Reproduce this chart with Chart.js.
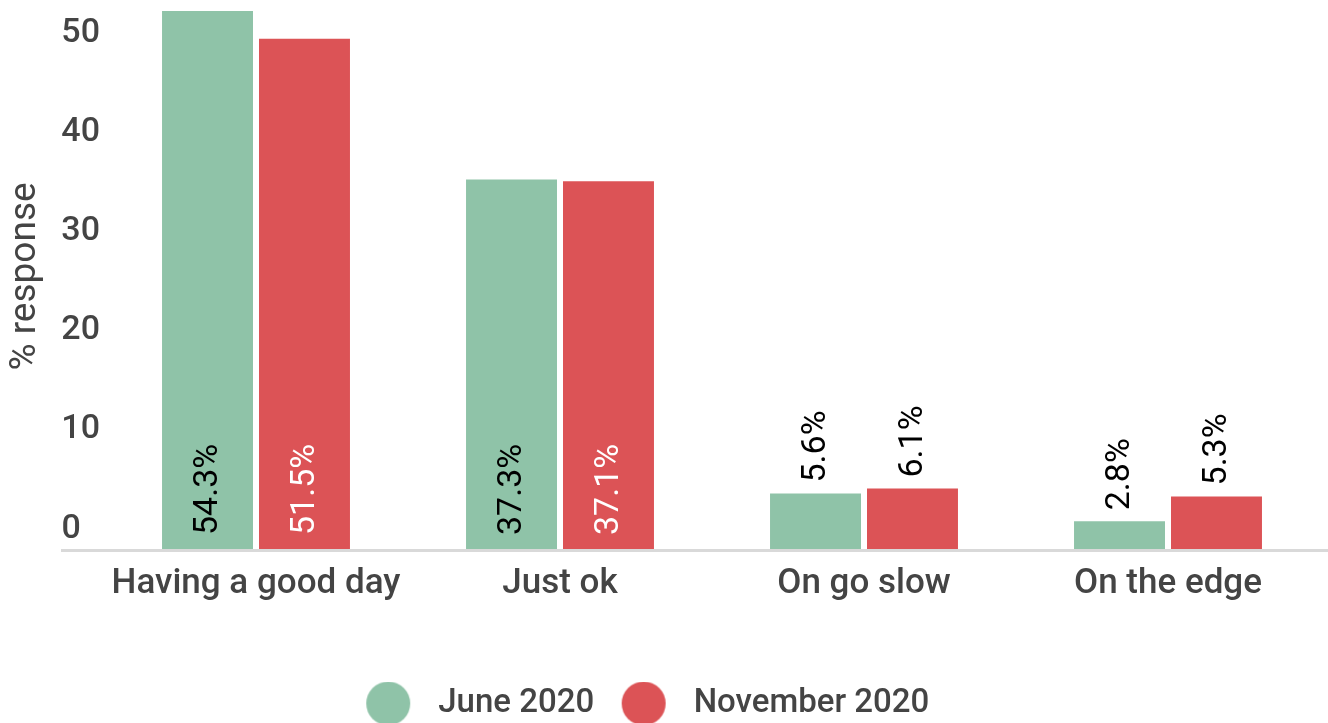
<!DOCTYPE html>
<html>
<head>
<meta charset="utf-8">
<title>Mood survey</title>
<script src="https://cdn.jsdelivr.net/npm/chart.js@4.4.1/dist/chart.umd.min.js"></script>
<style>
  html, body { margin: 0; padding: 0; background: #fff; }
  #wrap { position: relative; width: 1328px; height: 723px; }
</style>
</head>
<body>
<div id="wrap"><canvas id="moodChart"></canvas></div>
<script>
// --- data ---
const categories = ['Having a good day', 'Just ok', 'On go slow', 'On the edge'];
const seriesNames = ['June 2020', 'November 2020'];
const june2020 = [54.3, 37.3, 5.6, 2.8];
const november2020 = [51.5, 37.1, 6.1, 5.3];
const yTicks = [0, 10, 20, 30, 40, 50];

const seriesColors = ['#8FC3A8', '#DC5356'];
const insideLabelColors = ['#000000', '#ffffff'];
const textColor = '#444444';

Chart.defaults.font.family = 'Roboto';

// legend dot: circle on the left of a wider canvas so the text sits further right
function makeDot(color) {
  const c = document.createElement('canvas');
  c.width = 80; c.height = 44;
  const g = c.getContext('2d');
  g.fillStyle = color;
  g.beginPath();
  g.arc(23, 22, 22, 0, Math.PI * 2);
  g.fill();
  return c;
}
const legendDots = seriesColors.map(makeDot);

// light grey baseline running under the y labels
const baseline = {
  id: 'baseline',
  beforeDatasetsDraw(chart) {
    const ctx = chart.ctx;
    const y = chart.scales.y.getPixelForValue(0);
    ctx.save();
    ctx.strokeStyle = '#d9d9d9';
    ctx.lineWidth = 3;
    ctx.beginPath();
    ctx.moveTo(61, y + 1.5);
    ctx.lineTo(chart.width, y + 1.5);
    ctx.stroke();
    ctx.restore();
  }
};

// rotated value labels: inside the bar when it is tall enough, above it otherwise
const valueLabels = {
  id: 'valueLabels',
  afterDatasetsDraw(chart) {
    const ctx = chart.ctx;
    ctx.save();
    ctx.font = '400 34px Roboto';
    ctx.textAlign = 'left';
    ctx.textBaseline = 'middle';
    chart.data.datasets.forEach((ds, di) => {
      chart.getDatasetMeta(di).data.forEach((bar, i) => {
        const text = ds.data[i].toFixed(1) + '%';
        const w = ctx.measureText(text).width;
        const inside = bar.base - bar.y > w + 30;
        const startY = inside ? bar.base - 14 : bar.y - 11;
        ctx.fillStyle = inside ? insideLabelColors[di] : '#000000';
        ctx.save();
        ctx.translate(bar.x + 1, startY);
        ctx.rotate(-Math.PI / 2);
        ctx.fillText(text, 0, 0);
        ctx.restore();
      });
    });
    ctx.restore();
  }
};

// nudge the legend row into place
const legendShift = {
  id: 'legendShift',
  afterLayout(chart) {
    const lg = chart.legend;
    lg.left -= 1; lg.right -= 1;
    lg.top += 7; lg.bottom += 7;
  }
};

new Chart(document.getElementById('moodChart'), {
  type: 'bar',
  data: {
    labels: categories,
    datasets: [
      { label: seriesNames[0], data: june2020, backgroundColor: seriesColors[0] },
      { label: seriesNames[1], data: november2020, backgroundColor: seriesColors[1] }
    ]
  },
  options: {
    responsive: true,
    maintainAspectRatio: false,
    animation: false,
    categoryPercentage: 0.638,
    barPercentage: 0.938,
    layout: { padding: { top: 4, right: 8, left: 0, bottom: 0 } },
    plugins: {
      tooltip: { enabled: false },
      legend: {
        position: 'bottom',
        labels: {
          usePointStyle: true,
          padding: 50,
          color: textColor,
          font: { size: 33, weight: '500' },
          generateLabels(chart) {
            return chart.data.datasets.map((ds, i) => ({
              text: ds.label,
              fillStyle: ds.backgroundColor,
              strokeStyle: ds.backgroundColor,
              lineWidth: 0,
              pointStyle: legendDots[i],
              fontColor: textColor,
              hidden: !chart.isDatasetVisible(i),
              datasetIndex: i
            }));
          }
        }
      }
    },
    scales: {
      x: {
        grid: { display: false, drawTicks: false },
        border: { display: false },
        ticks: { color: textColor, padding: 14, font: { size: 35, weight: '500' } },
        afterFit(scale) { scale.height = 81; }
      },
      y: {
        min: 0,
        max: 55,
        grid: { display: false, drawTicks: false },
        border: { display: false },
        afterBuildTicks(scale) { scale.ticks = yTicks.map(v => ({ value: v })); },
        ticks: {
          color: textColor,
          padding: 4,
          labelOffset: -20,
          font: { size: 34, weight: '500' },
          // figure space keeps single digits flush left with the two-digit ones
          callback: (v) => (v < 10 ? v + '\u2007' : String(v))
        },
        title: {
          display: true,
          text: '% response',
          color: textColor,
          font: { size: 37, weight: '400' },
          padding: { top: 4, bottom: 0 }
        },
        afterFit(scale) {
          scale.width = 104;
          scale.paddingTop = 0;
          scale.paddingBottom = 0;
        }
      }
    }
  },
  plugins: [baseline, valueLabels, legendShift]
});
</script>
</body>
</html>
